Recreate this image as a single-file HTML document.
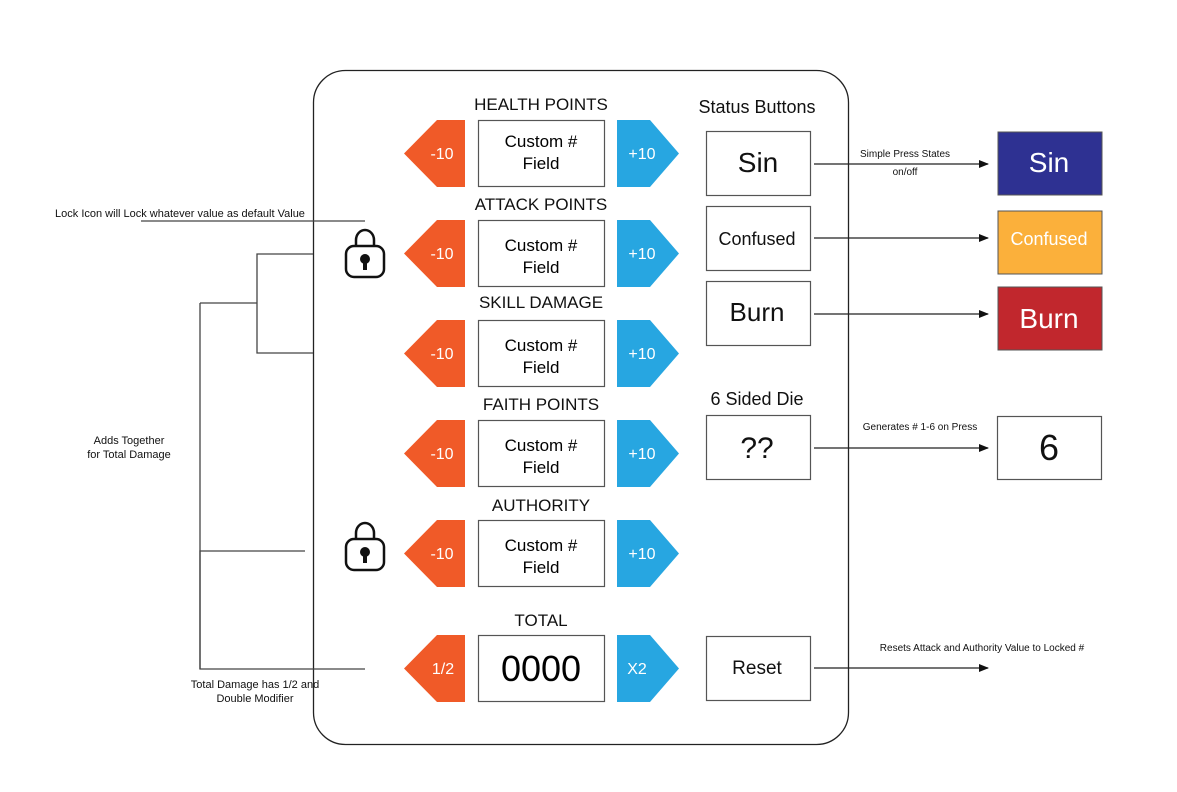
<!DOCTYPE html>
<html><head><meta charset="utf-8"><style>
html,body{margin:0;padding:0;background:#fff;}
svg{display:block;font-family:"Liberation Sans",sans-serif;}
</style></head><body>
<svg width="1177" height="792" viewBox="0 0 1177 792" xmlns="http://www.w3.org/2000/svg">
<defs><marker id="ah" markerWidth="10" markerHeight="10" refX="9" refY="5" orient="auto" markerUnits="userSpaceOnUse"><path d="M0,1 L10,5 L0,9 Z" fill="#111"/></marker></defs>
<rect x="313.5" y="70.5" width="535" height="674" rx="32" fill="none" stroke="#222" stroke-width="1.3"/>
<g stroke="#444" stroke-width="1.3" fill="none">
<line x1="141" y1="221" x2="365" y2="221"/>
<polyline points="313,254 257,254 257,353 313,353"/>
<line x1="200" y1="303" x2="257" y2="303"/>
<polyline points="305,551 200,551 200,669 365,669"/>
<line x1="200" y1="303" x2="200" y2="669"/>
</g>
<g font-size="11" fill="#111" text-anchor="middle">
<text x="180" y="217">Lock Icon will Lock whatever value as default Value</text>
<text x="129" y="444">Adds Together</text>
<text x="129" y="458">for Total Damage</text>
<text x="255" y="688">Total Damage has 1/2 and</text>
<text x="255" y="702">Double Modifier</text>
</g>
<g id="rows" font-size="17" text-anchor="middle">
<!-- row template -->
</g>
<g font-size="17" text-anchor="middle" fill="#111">
<text x="541" y="110">HEALTH POINTS</text>
<text x="541" y="210">ATTACK POINTS</text>
<text x="541" y="308">SKILL DAMAGE</text>
<text x="541" y="410">FAITH POINTS</text>
<text x="541" y="511">AUTHORITY</text>
<text x="541" y="626">TOTAL</text>
</g>
<g font-size="17" text-anchor="middle">
<!-- rows at 120,220,320,420,520 -->
<g transform="translate(0,120)"><polygon points="404,33.5 437,0 465,0 465,67 437,67" fill="#f05a28"/><text x="442" y="39" fill="#fff" font-size="16">-10</text><rect x="478.5" y="0.5" width="126" height="66" fill="#fff" stroke="#555" stroke-width="1.2"/><text x="541" y="27">Custom #</text><text x="541" y="49">Field</text><polygon points="617,0 650,0 679,33.5 650,67 617,67" fill="#27a6e1"/><text x="642" y="39" fill="#fff" font-size="16">+10</text></g>
<g transform="translate(0,220)"><polygon points="404,33.5 437,0 465,0 465,67 437,67" fill="#f05a28"/><text x="442" y="39" fill="#fff" font-size="16">-10</text><rect x="478.5" y="0.5" width="126" height="66" fill="#fff" stroke="#555" stroke-width="1.2"/><text x="541" y="31">Custom #</text><text x="541" y="53">Field</text><polygon points="617,0 650,0 679,33.5 650,67 617,67" fill="#27a6e1"/><text x="642" y="39" fill="#fff" font-size="16">+10</text></g>
<g transform="translate(0,320)"><polygon points="404,33.5 437,0 465,0 465,67 437,67" fill="#f05a28"/><text x="442" y="39" fill="#fff" font-size="16">-10</text><rect x="478.5" y="0.5" width="126" height="66" fill="#fff" stroke="#555" stroke-width="1.2"/><text x="541" y="31">Custom #</text><text x="541" y="53">Field</text><polygon points="617,0 650,0 679,33.5 650,67 617,67" fill="#27a6e1"/><text x="642" y="39" fill="#fff" font-size="16">+10</text></g>
<g transform="translate(0,420)"><polygon points="404,33.5 437,0 465,0 465,67 437,67" fill="#f05a28"/><text x="442" y="39" fill="#fff" font-size="16">-10</text><rect x="478.5" y="0.5" width="126" height="66" fill="#fff" stroke="#555" stroke-width="1.2"/><text x="541" y="31">Custom #</text><text x="541" y="53">Field</text><polygon points="617,0 650,0 679,33.5 650,67 617,67" fill="#27a6e1"/><text x="642" y="39" fill="#fff" font-size="16">+10</text></g>
<g transform="translate(0,520)"><polygon points="404,33.5 437,0 465,0 465,67 437,67" fill="#f05a28"/><text x="442" y="39" fill="#fff" font-size="16">-10</text><rect x="478.5" y="0.5" width="126" height="66" fill="#fff" stroke="#555" stroke-width="1.2"/><text x="541" y="31">Custom #</text><text x="541" y="53">Field</text><polygon points="617,0 650,0 679,33.5 650,67 617,67" fill="#27a6e1"/><text x="642" y="39" fill="#fff" font-size="16">+10</text></g>
<g transform="translate(0,635)"><polygon points="404,33.5 437,0 465,0 465,67 437,67" fill="#f05a28"/><text x="443" y="39" fill="#fff" font-size="16">1/2</text><rect x="478.5" y="0.5" width="126" height="66" fill="#fff" stroke="#555" stroke-width="1.2"/><text x="541" y="46" font-size="36">0000</text><polygon points="617,0 650,0 679,33.5 650,67 617,67" fill="#27a6e1"/><text x="637" y="39" fill="#fff" font-size="16">X2</text></g>
</g>
<!-- locks -->
<g stroke="#111" stroke-width="2.5" fill="#fff">
<path d="M356,250 v-10 a9,10 0 0 1 18,0 v10" fill="none"/>
<rect x="346" y="246" width="38" height="31" rx="8"/>
<path d="M356,543 v-10 a9,10 0 0 1 18,0 v10" fill="none"/>
<rect x="346" y="539" width="38" height="31" rx="8"/>
</g>
<g fill="#111">
<circle cx="365" cy="259" r="5"/><rect x="363" y="259" width="4" height="11"/>
<circle cx="365" cy="552" r="5"/><rect x="363" y="552" width="4" height="11"/>
</g>
<g fill="#111" text-anchor="middle">
<text x="757" y="113" font-size="18">Status Buttons</text>
<text x="757" y="405" font-size="18">6 Sided Die</text>
</g>
<g fill="#fff" stroke="#555" stroke-width="1.2">
<rect x="706.5" y="131.5" width="104" height="64"/>
<rect x="706.5" y="206.5" width="104" height="64"/>
<rect x="706.5" y="281.5" width="104" height="64"/>
<rect x="706.5" y="415.5" width="104" height="64"/>
<rect x="706.5" y="636.5" width="104" height="64"/>
<rect x="997.5" y="416.5" width="104" height="63"/>
</g>
<rect x="998" y="132" width="104" height="63" fill="#2e3192" stroke="#555"/>
<rect x="998" y="211" width="104" height="63" fill="#fbb03b" stroke="#555"/>
<rect x="998" y="287" width="104" height="63" fill="#c1272d" stroke="#555"/>
<g text-anchor="middle" fill="#111">
<text x="758" y="172" font-size="28">Sin</text>
<text x="757" y="245" font-size="18">Confused</text>
<text x="757" y="321" font-size="26">Burn</text>
<text x="757" y="458" font-size="30">??</text>
<text x="757" y="674" font-size="19">Reset</text>
<text x="1049" y="460" font-size="36">6</text>
<text x="1049" y="172" font-size="28" fill="#fff">Sin</text>
<text x="1049" y="245" font-size="18" fill="#fff">Confused</text>
<text x="1049" y="328" font-size="28" fill="#fff">Burn</text>
</g>
<g stroke="#222" stroke-width="1.3" marker-end="url(#ah)">
<line x1="814" y1="164" x2="988" y2="164"/>
<line x1="814" y1="238" x2="988" y2="238"/>
<line x1="814" y1="314" x2="988" y2="314"/>
<line x1="814" y1="448" x2="988" y2="448"/>
<line x1="814" y1="668" x2="988" y2="668"/>
</g>
<g font-size="10" fill="#111" text-anchor="middle">
<text x="905" y="157">Simple Press States</text>
<text x="905" y="175">on/off</text>
<text x="920" y="430">Generates # 1-6 on Press</text>
<text x="982" y="651">Resets Attack and Authority  Value to Locked #</text>
</g>
</svg>
</body></html>
